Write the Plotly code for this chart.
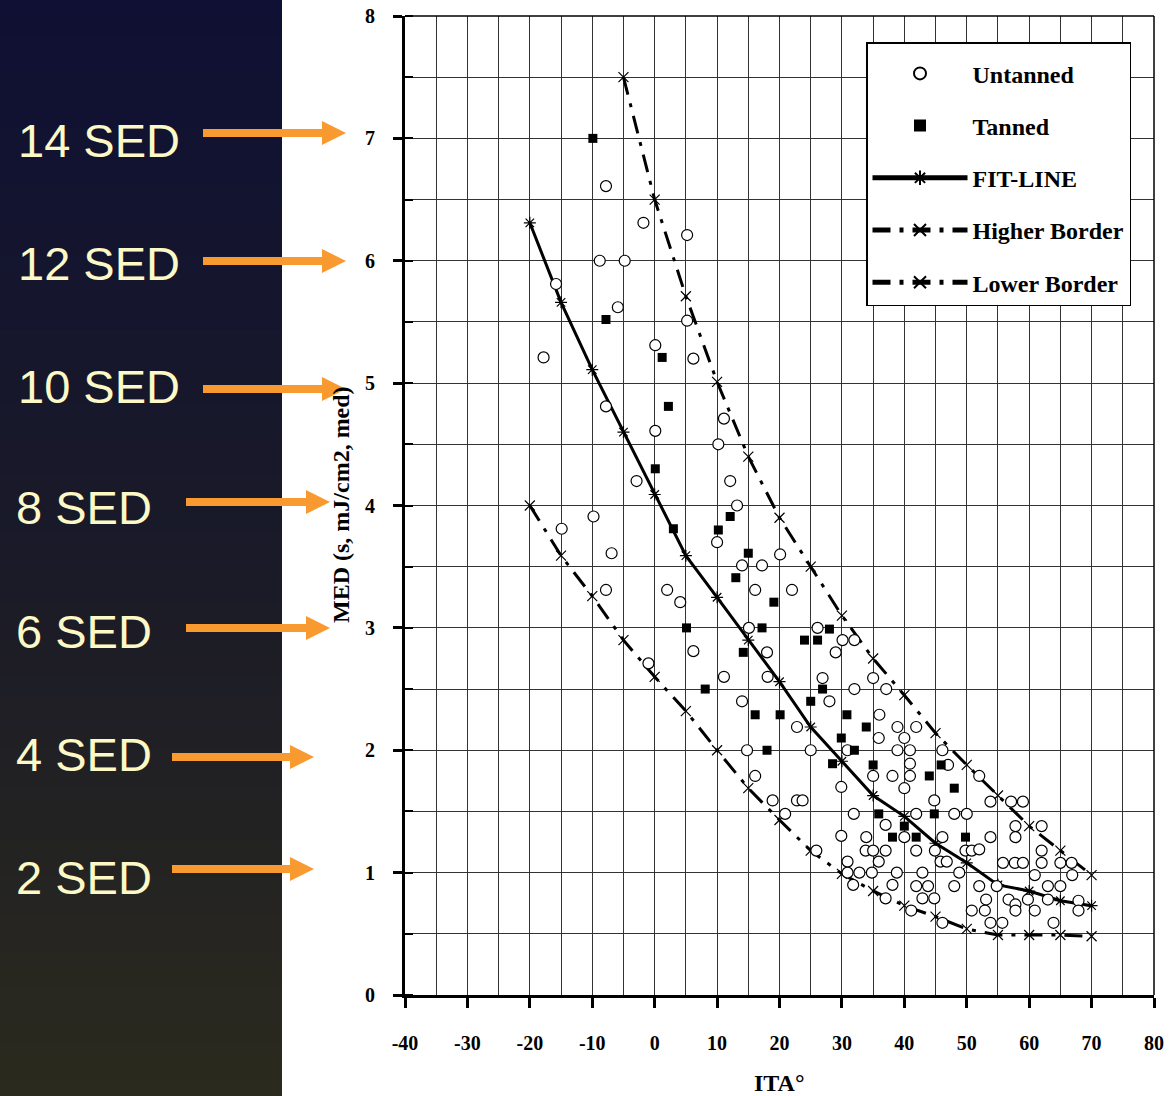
import plotly.graph_objects as go

W, H = 1170, 1096

# ---------------- data ----------------
untanned_x = [-7.8, -1.8, 5.2, -8.8, -4.8, -15.8, -5.9, -17.8, 5.2, 0.1, 6.2, -7.8, 0.1, 11.1, 10.2,
              -2.9, 12.1, 13.2, -9.8, -14.9, 10.0, -6.9, 20.1, 14.0, 17.2, -7.8, 2.0, 16.1, 22.0, 4.1,
              15.1, 6.2, 18.0, -1.0, 11.1, 18.1, 14.0, 22.8, 14.8, 16.1, 18.9, 22.8, 23.7, 20.9,
              26.1, 30.1, 32.0, 29.0, 26.9, 35.0, 32.0, 37.1, 28.0, 36.0,
              38.9, 41.9, 35.9, 40.0, 25.0, 30.9, 38.9, 40.9, 46.1, 40.9, 47.0, 35.0, 38.1, 40.9, 29.9,
              40.0, 44.8, 31.9, 41.9, 48.0, 50.0, 37.0, 29.9, 33.9, 40.0, 46.1, 33.8, 35.0, 37.0, 41.9,
              44.9, 49.8, 50.8, 25.9, 30.9, 35.9, 45.8, 46.8, 30.9, 32.8, 34.8, 38.8, 42.9, 48.8, 31.8,
              38.1, 41.9, 43.8, 48.0, 37.0, 42.9, 44.8, 50.8, 41.1, 46.1,
              52.0, 53.8, 57.1, 59.0, 57.8, 62.0, 53.8, 57.8, 52.0, 62.0, 55.8, 57.7, 59.0, 62.0, 65.0,
              66.8, 60.9, 66.9, 52.0, 54.8, 63.0, 65.0, 53.1, 56.7, 59.8, 63.0, 67.9, 57.8, 52.9, 57.8,
              60.9, 67.9, 53.8, 55.7, 63.9]
untanned_y = [6.61, 6.31, 6.21, 6.0, 6.0, 5.81, 5.62, 5.21, 5.51, 5.31, 5.2, 4.81, 4.61, 4.71, 4.5,
              4.2, 4.2, 4.0, 3.91, 3.81, 3.70, 3.61, 3.6, 3.51, 3.51, 3.31, 3.31, 3.31, 3.31, 3.21,
              3.0, 2.81, 2.80, 2.71, 2.6, 2.6, 2.40, 2.19, 2.0, 1.79, 1.59, 1.59, 1.59, 1.48,
              3.0, 2.9, 2.9, 2.8, 2.59, 2.59, 2.50, 2.50, 2.4, 2.29,
              2.19, 2.19, 2.1, 2.1, 2.0, 2.0, 2.0, 2.0, 2.0, 1.89, 1.88, 1.79, 1.79, 1.79, 1.7,
              1.69, 1.59, 1.48, 1.48, 1.48, 1.48, 1.39, 1.3, 1.29, 1.29, 1.29, 1.18, 1.18, 1.18, 1.18,
              1.18, 1.18, 1.18, 1.18, 1.09, 1.09, 1.09, 1.09, 1.0, 1.0, 1.0, 1.0, 1.0, 1.0, 0.9,
              0.9, 0.89, 0.89, 0.89, 0.79, 0.79, 0.79, 0.69, 0.69, 0.59,
              1.79, 1.58, 1.58, 1.58, 1.38, 1.38, 1.29, 1.29, 1.19, 1.18, 1.08, 1.08, 1.08, 1.08, 1.08,
              1.08, 0.98, 0.98, 0.89, 0.89, 0.89, 0.89, 0.78, 0.78, 0.78, 0.78, 0.77, 0.74, 0.69, 0.69,
              0.69, 0.69, 0.59, 0.59, 0.59]

tanned_x = [-9.9, -7.8, 1.2, 2.2, 0.1, 3.0, 12.1, 10.2, 15.0, 13.0, 19.1, 5.1, 17.2, 14.2, 8.1,
            16.1, 20.1, 18.0, 28.0, 24.0, 26.1, 26.9, 25.0, 30.8, 33.9, 29.9, 32.0, 28.5, 35.0,
            45.9, 44.0, 48.0, 35.9, 40.0, 44.8, 38.1, 41.9, 49.8]
tanned_y = [7.0, 5.52, 5.21, 4.81, 4.30, 3.81, 3.91, 3.80, 3.61, 3.41, 3.21, 3.0, 3.0, 2.80, 2.50,
            2.29, 2.29, 2.0, 2.99, 2.90, 2.90, 2.50, 2.40, 2.29, 2.19, 2.10, 2.0, 1.89, 1.88,
            1.88, 1.79, 1.69, 1.48, 1.38, 1.48, 1.29, 1.29, 1.29]

fit_x = [-20, -15, -10, -5, 0, 5, 10, 15, 20, 25, 30, 35, 40, 45, 50, 55, 60, 65, 70]
fit_y = [6.31, 5.66, 5.11, 4.60, 4.09, 3.59, 3.25, 2.90, 2.56, 2.19, 1.91, 1.63, 1.46, 1.24,
         1.08, 0.90, 0.85, 0.77, 0.73]

high_x = [-5, 0, 5, 10, 15, 20, 25, 30, 35, 40, 45, 50, 55, 60, 65, 70]
high_y = [7.50, 6.50, 5.71, 5.01, 4.40, 3.90, 3.50, 3.10, 2.75, 2.45, 2.14, 1.88, 1.63, 1.38,
          1.18, 0.98]

low_x = [-20, -15, -10, -5, 0, 5, 10, 15, 20, 25, 30, 35, 40, 45, 50, 55, 60, 65, 70]
low_y = [4.0, 3.59, 3.26, 2.90, 2.60, 2.32, 2.00, 1.69, 1.43, 1.18, 0.99, 0.85, 0.73, 0.64,
         0.54, 0.49, 0.49, 0.49, 0.48]

x_ticks = [-40, -30, -20, -10, 0, 10, 20, 30, 40, 50, 60, 70, 80]
y_ticks = [0, 1, 2, 3, 4, 5, 6, 7, 8]

sed_labels = ["14 SED", "12 SED", "10 SED", "8 SED", "6 SED", "4 SED", "2 SED"]

# ---------------- figure ----------------
SERIF = "Liberation Serif, Times New Roman, serif"
SANS = "Liberation Sans, Arial, sans-serif"

fig = go.Figure()

fig.add_trace(go.Scatter(
    x=low_x, y=low_y, name="Lower Border", mode="lines+markers",
    line=dict(color="black", width=3, dash="18px,9px,4px,9px"),
    marker=dict(symbol="x-thin-open", size=10, line=dict(color="black", width=1.2)),
    legendrank=5, legendgroup="e"))
fig.add_trace(go.Scatter(
    x=high_x, y=high_y, name="Higher Border", mode="lines+markers",
    line=dict(color="black", width=3, dash="18px,9px,4px,9px"),
    marker=dict(symbol="x-thin-open", size=10, line=dict(color="black", width=1.2)),
    legendrank=4, legendgroup="d"))
fig.add_trace(go.Scatter(
    x=fit_x, y=fit_y, name="FIT-LINE", mode="lines+markers",
    line=dict(color="black", width=3),
    marker=dict(symbol="asterisk-open", size=10, line=dict(color="black", width=1.2)),
    legendrank=3, legendgroup="c"))
fig.add_trace(go.Scatter(
    x=untanned_x, y=untanned_y, name="Untanned", mode="markers",
    marker=dict(symbol="circle", size=11, color="white", line=dict(color="black", width=1.2)),
    legendrank=1, legendgroup="a"))
fig.add_trace(go.Scatter(
    x=tanned_x, y=tanned_y, name="Tanned", mode="markers",
    marker=dict(symbol="square", size=9, color="black", line=dict(color="black", width=0)),
    legendrank=2, legendgroup="b"))

# axes domain in pixel terms (margins are zero)
x_dom = [405 / W, 1154 / W]
y_dom = [1 - 995 / H, 1 - 16 / H]

fig.update_xaxes(
    domain=x_dom, range=[-40, 80], tickvals=x_ticks, ticktext=[str(v) for v in x_ticks],
    automargin=False,
    showline=True, linewidth=3, linecolor="black",
    ticks="outside", ticklen=10, tickwidth=3, tickcolor="black",
    ticklabelstandoff=18,
    tickfont=dict(family=SERIF, size=20, color="black", weight="bold"),
    showgrid=True, gridcolor="#333333", gridwidth=1, zeroline=False,
    minor=dict(dtick=5, showgrid=True, gridcolor="#333333", gridwidth=1),
)
fig.update_yaxes(
    domain=y_dom, range=[0, 8], tickvals=y_ticks, ticktext=[str(v) for v in y_ticks],
    automargin=False,
    showline=True, linewidth=3, linecolor="black",
    ticks="outside", ticklen=9, tickwidth=3, tickcolor="black",
    ticklabelstandoff=14,
    tickfont=dict(family=SERIF, size=20, color="black", weight="bold"),
    showgrid=True, gridcolor="#333333", gridwidth=1, zeroline=False,
    minor=dict(dtick=0.5, showgrid=True, gridcolor="#333333", gridwidth=1,
               ticks="inside", ticklen=8, tickwidth=1.5, tickcolor="black"),
)

shapes = []
# left dark panel gradient (bands)
n_bands = 60
top_c = (15, 16, 52)
mid_c = (26, 26, 40)
bot_c = (43, 42, 30)
for i in range(n_bands):
    t = (i + 0.5) / n_bands
    if t < 0.5:
        u = t / 0.5
        c = [round(top_c[k] + (mid_c[k] - top_c[k]) * u) for k in range(3)]
    else:
        u = (t - 0.5) / 0.5
        c = [round(mid_c[k] + (bot_c[k] - mid_c[k]) * u) for k in range(3)]
    shapes.append(dict(type="rect", xref="paper", yref="paper",
                       x0=0, x1=282 / W, y0=max(0, 1 - (i + 1) / n_bands - 0.001), y1=1 - i / n_bands,
                       fillcolor=f"rgb({c[0]},{c[1]},{c[2]})", line=dict(width=0), layer="below"))
# thin frame on top and right of plot area
shapes.append(dict(type="line", xref="x domain", yref="y domain", x0=0, x1=1, y0=1, y1=1,
                   line=dict(color="black", width=1.5)))
shapes.append(dict(type="line", xref="x domain", yref="y domain", x0=1, x1=1, y0=0, y1=1,
                   line=dict(color="black", width=1.5)))

annotations = []
# axis titles
annotations.append(dict(text="ITA°", xref="paper", yref="paper", x=779 / W, y=1 - 1083 / H,
                        xanchor="center", yanchor="middle", showarrow=False,
                        font=dict(family=SERIF, size=24, color="black", weight="bold")))
annotations.append(dict(text="MED (s, mJ/cm2, med)", xref="paper", yref="paper", x=341 / W,
                        y=1 - 505 / H, xanchor="center", yanchor="middle", textangle=-90,
                        showarrow=False,
                        font=dict(family=SERIF, size=24, color="black", weight="bold")))

# SED labels + arrows (positions in pixels)
label_left = [16, 16, 16, 14, 14, 14, 14]
label_y = [140, 263, 386, 508, 631, 754, 877]
arrow_x0 = [203, 203, 203, 186, 186, 172, 172]
arrow_x1 = [346, 346, 346, 330, 330, 314, 314]
arrow_y = [133, 261, 389, 502, 628, 757, 869]
for lab, lx, ly, ax0, ax1, ay in zip(sed_labels, label_left, label_y, arrow_x0, arrow_x1, arrow_y):
    annotations.append(dict(text=lab, xref="paper", yref="paper", x=lx / W, y=1 - ly / H,
                            xanchor="left", yanchor="middle", showarrow=False,
                            font=dict(family=SANS, size=47, color="#fdf9c6")))
    shapes.append(dict(type="line", xref="paper", yref="paper", x0=ax0 / W, x1=(ax1 - 22) / W,
                       y0=1 - ay / H, y1=1 - ay / H, line=dict(color="#f89a30", width=8)))
    shapes.append(dict(type="path", xref="paper", yref="paper",
                       path=f"M {(ax1 - 24) / W},{1 - (ay - 12) / H} L {ax1 / W},{1 - ay / H} "
                            f"L {(ax1 - 24) / W},{1 - (ay + 12) / H} Z",
                       fillcolor="#f89a30", line=dict(width=0)))

fig.update_layout(
    width=W, height=H,
    margin=dict(l=0, r=0, t=0, b=0, pad=0, autoexpand=False),
    paper_bgcolor="white", plot_bgcolor="white",
    shapes=shapes, annotations=annotations,
    showlegend=True,
    legend=dict(x=866 / W, y=1 - 42 / H, xanchor="left", yanchor="top",
                bgcolor="white", bordercolor="black", borderwidth=1.5,
                font=dict(family=SERIF, size=24, color="black", weight="bold"),
                title=dict(text=" ", font=dict(size=6)),
                itemwidth=95, tracegroupgap=18, traceorder="grouped",
                itemsizing="constant"),
)

fig.write_html("out.html", config={"displayModeBar": False},
               post_script="document.body.style.margin='0';document.body.style.overflow='hidden';")
